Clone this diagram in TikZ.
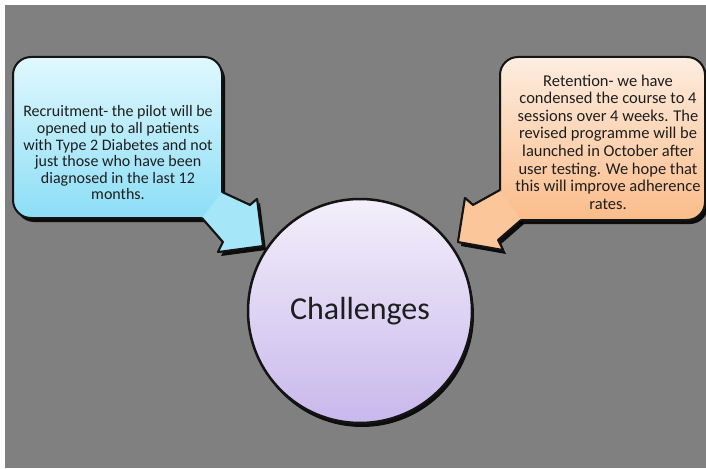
\documentclass[tikz,border=0pt]{standalone}
\usepackage{fontspec}
\setmainfont{Carlito}
\definecolor{bggray}{RGB}{128,128,128}
\definecolor{cyanTop}{RGB}{224,248,254}
\definecolor{cyanBot}{RGB}{140,222,246}
\definecolor{cyanArr}{RGB}{165,230,248}
\definecolor{orTop}{RGB}{253,237,224}
\definecolor{orBot}{RGB}{251,188,138}
\definecolor{orArr}{RGB}{251,198,154}
\definecolor{lvTop}{RGB}{243,239,251}
\definecolor{lvBot}{RGB}{200,184,236}
\definecolor{edge}{RGB}{20,20,20}
\definecolor{txt}{RGB}{30,30,30}
\tikzset{
  outl/.style={draw=edge, line width=2pt, line join=round},
  shad/.style={fill=black, opacity=0.9},
  boxtext/.style={text=txt, align=center, inner sep=0pt},
}
\begin{document}
\begin{tikzpicture}[x=1pt,y=-1pt]
\useasboundingbox (0,0) rectangle (706,468);
\fill[white] (0,0) rectangle (706,468);
\fill[bggray] (5,5) rectangle (706,468);

% ---------- left callout ----------
\begin{scope}[shift={(3,4)}]
  \fill[shad, rounded corners=18pt] (13,57) rectangle (222,218);
  \fill[shad] (222,192) -- (250,205) -- (257,199) -- (263,246) -- (218,252) -- (223,242) -- (202,218) -- cycle;
\end{scope}
\fill[cyanArr] (222,192) -- (250,205) -- (257,199) -- (263,246) -- (218,252) -- (223,242) -- (202,218) -- cycle;
\draw[outl] (222,192) -- (250,205) -- (257,199) -- (263,246) -- (218,252) -- (223,242) -- (202,218);
\path[outl, rounded corners=18pt, top color=cyanTop, bottom color=cyanBot] (13,57) rectangle (222,218);
\fill[cyanArr] (222,192) -- (250,205) -- (257,199) -- (263,246) -- (218,252) -- (223,242) -- (202,218) -- cycle;
\draw[outl] (222,192) -- (250,205) -- (257,199) -- (263,246) -- (218,252) -- (223,242) -- (202,218);
\node[boxtext, font=\fontsize{16}{16.6}\selectfont] (lt) at (118,153)
  {Recruitment- the pilot will be\\opened up to all patients\\with Type 2 Diabetes and not\\just those who have been\\diagnosed in the last 12\\months.};

% ---------- right callout ----------
\begin{scope}[shift={(3,4)}]
  \fill[shad, rounded corners=18pt] (500,57) rectangle (705,220);
  \fill[shad] (500,190) -- (473,205) -- (465,198) -- (458,242) -- (503,250) -- (498,240) -- (521,220) -- cycle;
\end{scope}
\fill[orArr] (500,190) -- (473,205) -- (465,198) -- (458,242) -- (503,250) -- (498,240) -- (521,220) -- cycle;
\draw[outl] (500,190) -- (473,205) -- (465,198) -- (458,242) -- (503,250) -- (498,240) -- (521,220);
\path[outl, rounded corners=18pt, top color=orTop, bottom color=orBot] (500,57) rectangle (705,220);
\fill[orArr] (500,190) -- (473,205) -- (465,198) -- (458,242) -- (503,250) -- (498,240) -- (521,220) -- cycle;
\draw[outl] (500,190) -- (473,205) -- (465,198) -- (458,242) -- (503,250) -- (498,240) -- (521,220);
\node[boxtext, font=\fontsize{16.5}{17.6}\selectfont] (rt) at (608,142)
  {Retention- we have\\condensed the course to 4\\sessions over 4 weeks. The\\revised programme will be\\launched in October after\\user testing. We hope that\\this will improve adherence\\rates.};

% ---------- circle ----------
\fill[shad] (362,315) circle (112pt);
\node[circle, minimum size=224pt, inner sep=0pt, draw=edge, line width=2.5pt,
      top color=lvTop, bottom color=lvBot, text=txt,
      font=\fontsize{32}{38}\selectfont] (ch) at (360,311) {Challenges};
\end{tikzpicture}
\end{document}
